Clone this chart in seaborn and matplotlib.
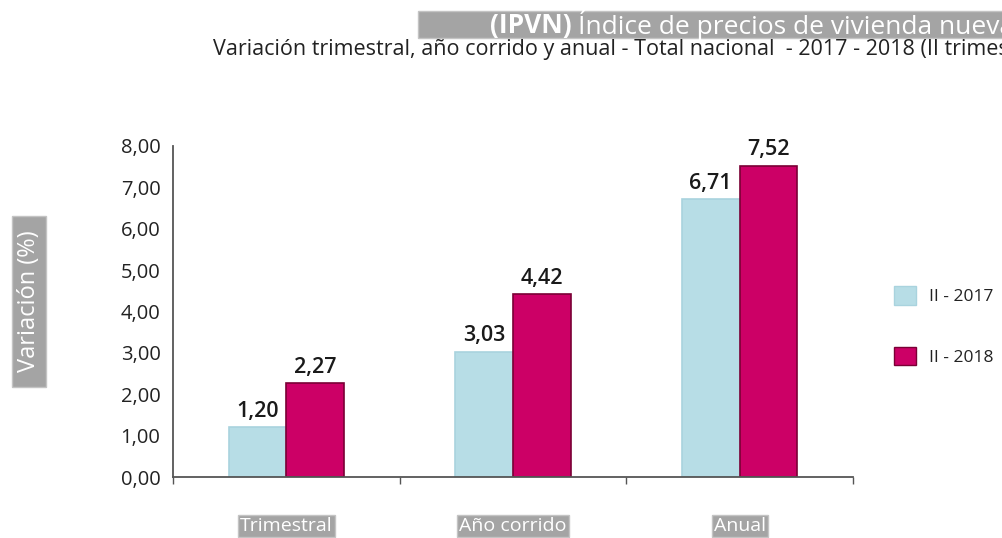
import pandas as pd
import numpy as np
import matplotlib.pyplot as plt
import seaborn as sns
from matplotlib.patches import Rectangle
from matplotlib.ticker import FuncFormatter, FixedLocator

# Data
categorias = ["Trimestral", "Año corrido", "Anual"]
periodos = ["II - 2017", "II - 2018"]
valores_2017 = [1.20, 3.03, 6.71]
valores_2018 = [2.27, 4.42, 7.52]

colores = ["#B7DDE6", "#CC0066"]
bordes = ["#A9D3DE", "#7A0035"]

df = pd.DataFrame({
    "categoria": categorias * 2,
    "periodo": [periodos[0]] * 3 + [periodos[1]] * 3,
    "valor": valores_2017 + valores_2018,
})

sns.set_style("white")
plt.rcParams["font.family"] = ["Open Sans", "DejaVu Sans"]

W, H = 1002, 538
fig = plt.figure(figsize=(W / 100, H / 100), dpi=100)
ax = fig.add_axes([173 / W, 1 - 477 / H, 680 / W, 331 / H])


def fig_box(x0, y0, x1, y1):
    # gray box in pixel coords (top-left origin)
    fig.patches.append(Rectangle((x0 / W, 1 - y1 / H), (x1 - x0) / W, (y1 - y0) / H,
                                 transform=fig.transFigure, facecolor="#A4A4A4",
                                 edgecolor="#C4C4C4", lw=1, zorder=0))


sns.barplot(data=df, x="categoria", y="valor", hue="periodo", palette=colores,
            saturation=1, width=0.51, ax=ax, legend=True)

for cont, ec in zip(ax.containers, bordes):
    for p in cont:
        p.set_edgecolor(ec)
        p.set_linewidth(1.2)
    ax.bar_label(cont, labels=[f"{v:.2f}".replace(".", ",") for v in cont.datavalues],
                 padding=4, fontsize=15.5, fontweight="semibold", color="#1a1a1a")

ax.set_xlim(-0.5, 2.5)
ax.set_ylim(0, 8)
ax.yaxis.set_major_locator(FixedLocator(np.arange(0, 9, 1)))
ax.yaxis.set_major_formatter(FuncFormatter(lambda v, _: f"{v:.2f}".replace(".", ",")))
ax.tick_params(axis="y", length=0, pad=9, labelsize=14.5, labelcolor="#222222")

# category boundary ticks on the x axis
ax.set_xticks([-0.5, 0.5, 1.5, 2.5], minor=True)
ax.tick_params(axis="x", which="minor", bottom=True, length=5, width=1,
               color="#555555", direction="out")
ax.tick_params(axis="x", which="major", length=0, pad=29, labelsize=14, labelcolor="white")
for lbl in ax.get_xticklabels():
    lbl.set_bbox(dict(facecolor="#A4A4A4", edgecolor="#C4C4C4", pad=1.5))

ax.set_xlabel("")
ax.set_ylabel("")
sns.despine(ax=ax)
for s in ["left", "bottom"]:
    ax.spines[s].set_color("#555555")
    ax.spines[s].set_linewidth(1.3)

leg = ax.legend(loc="center left", bbox_to_anchor=(894 / W, 1 - 326 / H),
                bbox_transform=fig.transFigure, frameon=False, fontsize=12.5,
                borderpad=0, borderaxespad=0,
                handlelength=1.25, handleheight=1.25, labelspacing=2.4, handletextpad=0.75)
for h, ec in zip(leg.legend_handles, bordes):
    h.set_edgecolor(ec)
for t in leg.get_texts():
    t.set_color("#222222")

# title band (cropped at the right edge as in the source screenshot)
fig_box(418, 11, 1010, 38)
t1 = fig.text(490 / W, 1 - 25 / H, "(IPVN) ", color="white", fontsize=19,
              fontweight="bold", ha="left", va="center")
fig.canvas.draw()
bb = t1.get_window_extent()
fig.text(bb.x1 / W, 1 - 25 / H, "Índice de precios de vivienda nueva",
         color="white", fontsize=19, ha="left", va="center")
fig.text(213 / W, 1 - 49 / H,
         "Variación trimestral, año corrido y anual - Total nacional  - 2017 - 2018 (II trimestre)",
         color="#222222", fontsize=15.5, ha="left", va="center")

# y axis title in a gray box
fig_box(12, 216, 46, 387)
fig.text(29 / W, 1 - 301 / H, "Variación (%)", rotation=90, color="white",
         fontsize=17, ha="center", va="center")

fig.savefig("out.png", dpi=100)
